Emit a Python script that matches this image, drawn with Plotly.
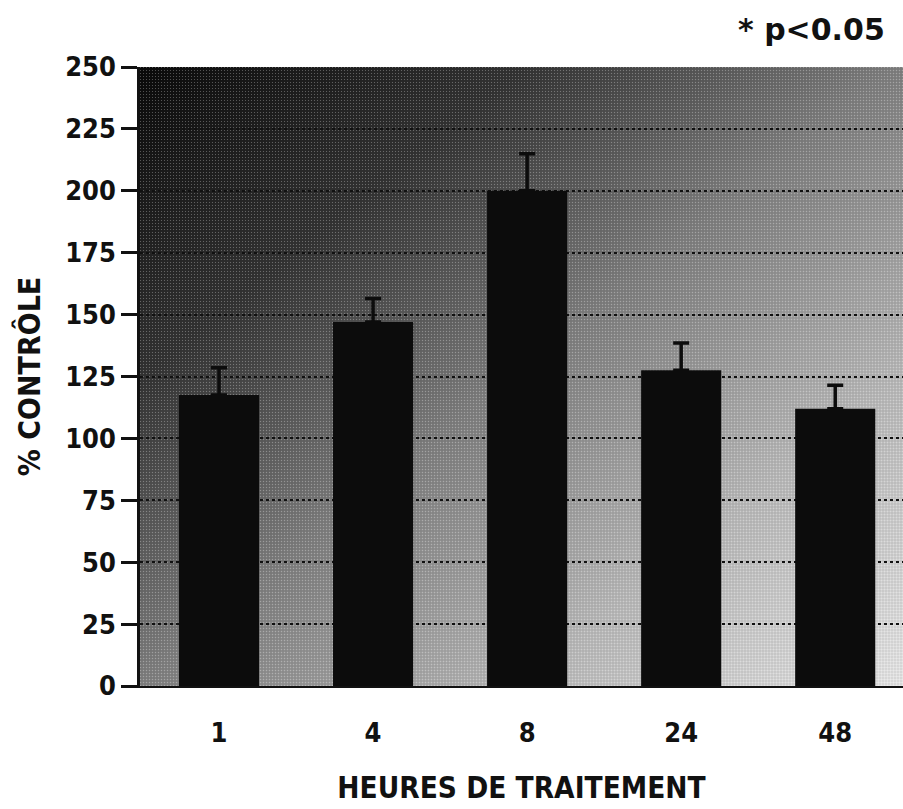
import base64
import plotly.graph_objects as go

# Treatment durations (hours) and response as % of control
heures = ["1", "4", "8", "24", "48"]
pct_controle = [117.5, 147.0, 200.0, 127.5, 112.0]
erreur_sup = [11.0, 9.5, 15.0, 11.0, 9.5]
y_ticks = [0, 25, 50, 75, 100, 125, 150, 175, 200, 225, 250]
signif_heure = "8"
signif_y = 241

FONT = "DejaVu Sans Condensed, DejaVu Sans, sans-serif"
FONT_WIDE = "DejaVu Sans, sans-serif"

# Diagonal grey gradient with a fine dither texture for the plot background
svg = """<svg xmlns="http://www.w3.org/2000/svg" width="763" height="619" viewBox="0 0 763 619" preserveAspectRatio="none">
<defs>
<linearGradient id="g" x1="0" y1="0" x2="1" y2="1">
<stop offset="0" stop-color="#0a0a0a"/>
<stop offset="0.25" stop-color="#333333"/>
<stop offset="0.5" stop-color="#808080"/>
<stop offset="0.75" stop-color="#b8b8b8"/>
<stop offset="1" stop-color="#e4e4e4"/>
</linearGradient>
<pattern id="p" width="3" height="3" patternUnits="userSpaceOnUse">
<rect x="0" y="0" width="1" height="1" fill="#ffffff" fill-opacity="0.28"/>
<rect x="1.5" y="1.5" width="1" height="1" fill="#000000" fill-opacity="0.2"/>
</pattern>
</defs>
<rect width="763" height="619" fill="url(#g)"/>
<rect width="763" height="619" fill="url(#p)"/>
</svg>"""
bg_uri = "data:image/svg+xml;base64," + base64.b64encode(svg.encode()).decode()

fig = go.Figure()
fig.add_trace(go.Bar(
    x=heures,
    y=pct_controle,
    width=0.52,
    marker=dict(color="#0c0c0c", line=dict(width=0)),
    error_y=dict(type="data", array=erreur_sup, arrayminus=[0] * len(erreur_sup),
                 symmetric=False, color="#0c0c0c", thickness=3.5, width=8),
    showlegend=False,
))

fig.add_annotation(x=signif_heure, y=signif_y, text="*", showarrow=False,
                   font=dict(family=FONT, size=30, color="#1a1a1a"))
fig.add_annotation(xref="paper", yref="paper", x=1.0, y=1.0, xanchor="right", yanchor="bottom",
                   xshift=-16, yshift=18, text="<b>* p<0.05</b>", showarrow=False,
                   font=dict(family=FONT_WIDE, size=30, color="#111111"))

fig.add_layout_image(dict(source=bg_uri, xref="paper", yref="paper", x=0, y=1,
                          sizex=1, sizey=1, sizing="stretch", xanchor="left",
                          yanchor="top", layer="below"))

fig.update_layout(
    width=903, height=809,
    margin=dict(l=140, r=0, t=67, b=123),
    paper_bgcolor="white",
    plot_bgcolor="rgba(0,0,0,0)",
    bargap=0.48,
    font=dict(family=FONT, color="#111111"),
    xaxis=dict(
        type="category",
        range=[-0.513, 4.44],
        showline=True, linecolor="#111111", linewidth=2,
        ticks="", showgrid=False,
        ticklabelstandoff=22,
        tickfont=dict(family=FONT, size=27, color="#111111", weight="bold"),
        title=dict(text="<b>HEURES DE TRAITEMENT</b>", standoff=30,
                   font=dict(family=FONT, size=29.5, color="#111111")),
    ),
    yaxis=dict(
        range=[0, 250],
        tickvals=y_ticks,
        showline=True, linecolor="#111111", linewidth=2.5,
        ticks="outside", ticklen=16, tickwidth=2.5, tickcolor="#111111",
        tickfont=dict(family=FONT, size=27, color="#111111", weight="bold"),
        showgrid=True, gridcolor="#111111", gridwidth=2, griddash="dot",
        zeroline=False,
        title=dict(text="<b>% CONTRÔLE</b>", standoff=16,
                   font=dict(family=FONT, size=30, color="#111111")),
    ),
)

fig.write_html("out.html")
